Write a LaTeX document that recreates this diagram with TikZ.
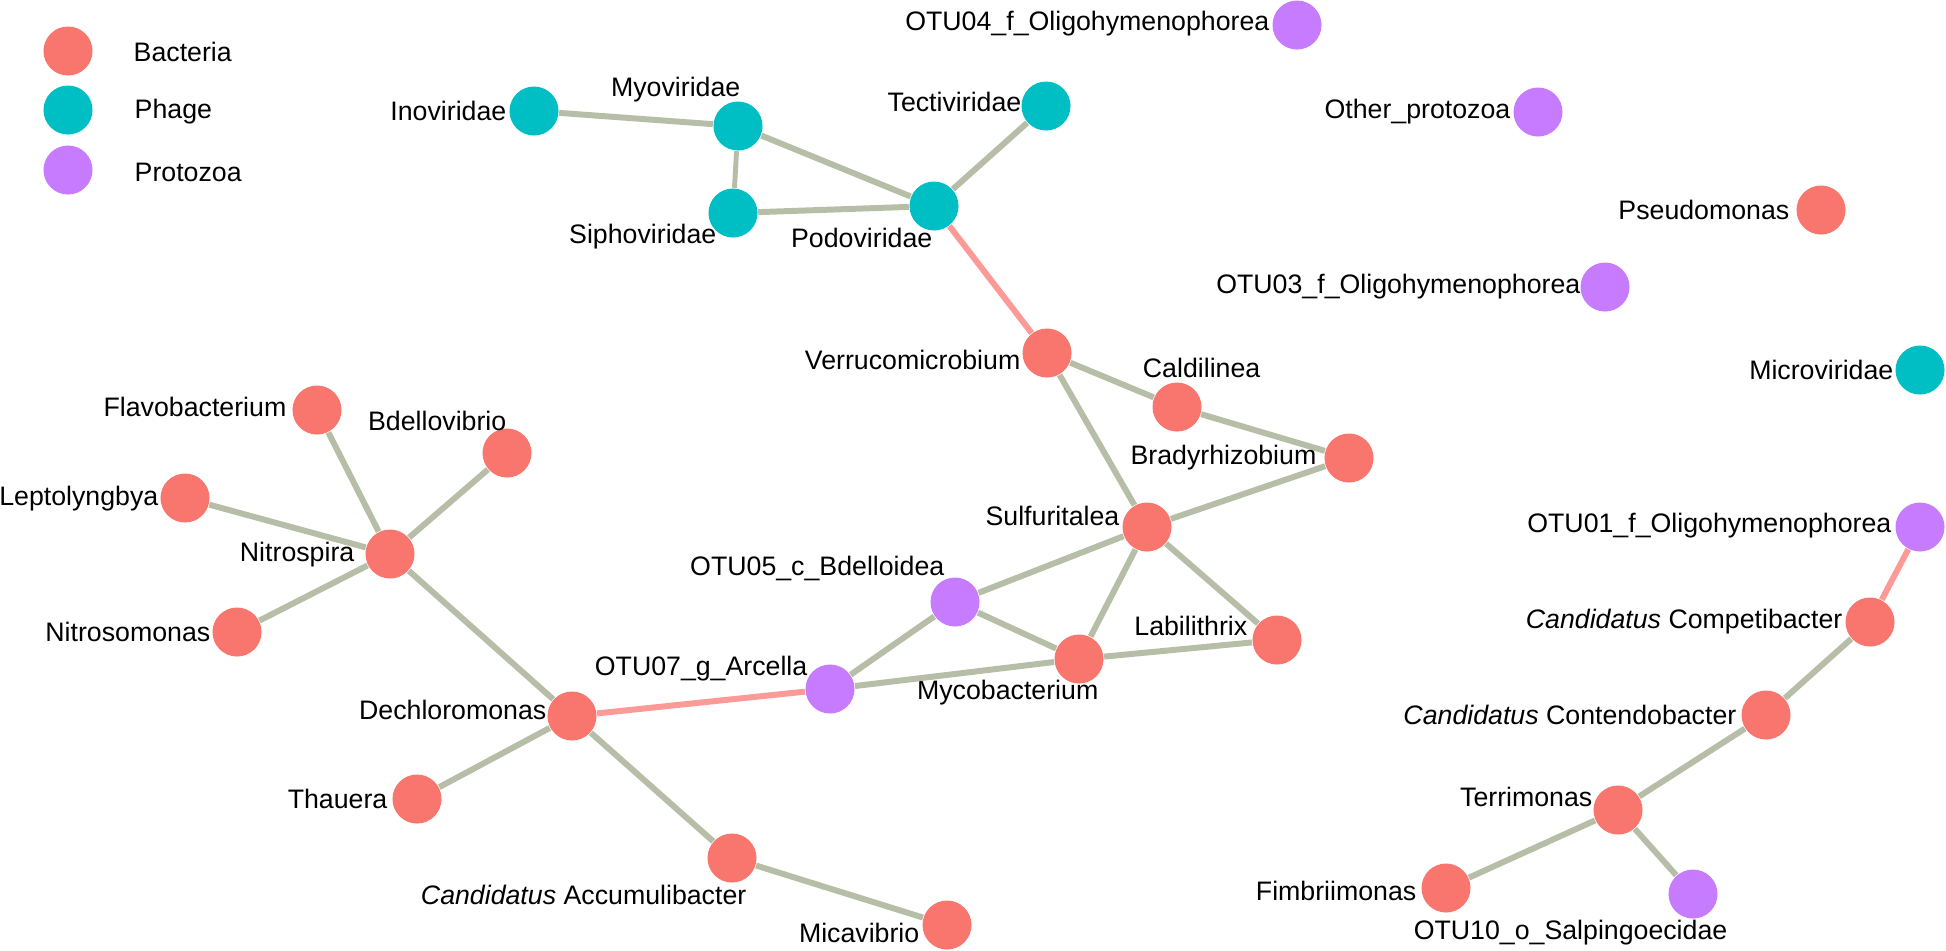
\documentclass[tikz,border=0pt]{standalone}
\usepackage{fontspec}
\setmainfont{Liberation Sans}
\usetikzlibrary{positioning}
\definecolor{bacRed}{HTML}{F8766D}
\definecolor{phgCyan}{HTML}{00BFC4}
\definecolor{proViolet}{HTML}{C77CFF}
\definecolor{edgeSage}{HTML}{B7BEA8}
\definecolor{edgePink}{HTML}{FC9A98}

\begin{document}
\begin{tikzpicture}[x=0.01cm, y=-0.01cm,
          bac/.style={circle, fill=bacRed, minimum size=0.49cm, inner sep=0pt},
          phg/.style={circle, fill=phgCyan, minimum size=0.49cm, inner sep=0pt},
          pro/.style={circle, fill=proViolet, minimum size=0.49cm, inner sep=0pt},
          lab/.style={inner sep=0pt, anchor=east, font=\fontsize{7.6}{9}\selectfont},
          leg/.style={inner sep=0pt, anchor=west, font=\fontsize{7.6}{9}\selectfont},
          edge/.style={draw=edgeSage, line width=1.7pt},
          thin edge/.style={draw=edgeSage, line width=1.4pt},
          pedge/.style={draw=edgePink, line width=1.7pt}]
        \useasboundingbox (0,0) rectangle (1946,950);
        % legend
        \node[bac] (legB) at (68,51) {};
        \node[phg] (legP) at (68,110) {};
        \node[pro] (legZ) at (68,170) {};
        \node[leg] (tlegB) at (133,52) {Bacteria};
        \node[leg] (tlegP) at (134,112) {Phage};
        \node[leg] (tlegZ) at (134,172) {Protozoa};
        % phage cluster
        \node[phg] (inov) at (534,111) {};
        \node[phg] (myo) at (738,126) {};
        \node[phg] (sipho) at (733,213) {};
        \node[phg] (podo) at (934,206) {};
        \node[phg] (tecti) at (1046,106) {};
        \node[lab] (tinov) at (507,111) {Inoviridae};
        \node[lab] (tmyo) at (741,90) {Myoviridae};
        \node[lab] (tsipho) at (717,237) {Siphoviridae};
        \node[lab] (tpodo) at (933,238) {Podoviridae};
        \node[lab] (ttecti) at (1022,102) {Tectiviridae};
        % unconnected nodes
        \node[pro] (otu04) at (1297,25) {};
        \node[pro] (othp) at (1538,112) {};
        \node[bac] (pseudo) at (1821,210) {};
        \node[pro] (otu03) at (1605,287) {};
        \node[phg] (micro) at (1920,370) {};
        \node[lab] (totu04) at (1270,24) {OTU04\_f\_Oligohymenophorea};
        \node[lab] (tothp) at (1511,112) {Other\_protozoa};
        \node[lab] (tpseudo) at (1790,210) {Pseudomonas};
        \node[lab] (totu03) at (1581,287) {OTU03\_f\_Oligohymenophorea};
        \node[lab] (tmicro) at (1894,370) {Microviridae};
        % central cluster
        \node[bac] (verru) at (1047,353) {};
        \node[bac] (caldi) at (1177,407) {};
        \node[bac] (brady) at (1349,458) {};
        \node[bac] (sulfu) at (1147,527) {};
        \node[pro] (otu05) at (955,602) {};
        \node[bac] (labil) at (1277,640) {};
        \node[bac] (myco) at (1079,659) {};
        \node[pro] (otu07) at (830,689) {};
        \node[lab] (tverru) at (1021,360) {Verrucomicrobium};
        \node[lab] (tcaldi) at (1261,368) {Caldilinea};
        \node[lab] (tbrady) at (1317,458) {Bradyrhizobium};
        \node[lab] (tsulfu) at (1120,516) {Sulfuritalea};
        \node[lab] (totu05) at (945,568) {OTU05\_c\_Bdelloidea};
        \node[lab] (tlabil) at (1248,626) {Labilithrix};
        \node[lab] (tmyco) at (1099,693) {Mycobacterium};
        \node[lab] (totu07) at (808,669) {OTU07\_g\_Arcella};
        % left cluster
        \node[bac] (flavo) at (317,410) {};
        \node[bac] (bdello) at (507,453) {};
        \node[bac] (lepto) at (185,498) {};
        \node[bac] (nitrsp) at (390,554) {};
        \node[bac] (nitrsm) at (237,632) {};
        \node[bac] (dechl) at (572,716) {};
        \node[bac] (thau) at (417,799) {};
        \node[bac] (accum) at (732,858) {};
        \node[bac] (mica) at (947,925) {};
        \node[lab] (tflavo) at (287,407) {Flavobacterium};
        \node[lab] (tbdello) at (507,421) {Bdellovibrio};
        \node[lab] (tlepto) at (159,499) {Leptolyngbya};
        \node[lab] (tnitrsp) at (355,555) {Nitrospira};
        \node[lab] (tnitrsm) at (211,632) {Nitrosomonas};
        \node[lab] (tdechl) at (547,710) {Dechloromonas};
        \node[lab] (tthau) at (388,799) {Thauera};
        \node[lab] (taccum) at (747,895) {\textit{Candidatus} Accumulibacter};
        \node[lab] (tmica) at (920,933) {Micavibrio};
        % right cluster
        \node[pro] (otu01) at (1920,527) {};
        \node[bac] (compet) at (1870,622) {};
        \node[bac] (conten) at (1766,715) {};
        \node[bac] (terri) at (1618,810) {};
        \node[bac] (fimb) at (1446,888) {};
        \node[pro] (otu10) at (1693,894) {};
        \node[lab] (totu01) at (1892,526) {OTU01\_f\_Oligohymenophorea};
        \node[lab] (tcompet) at (1843,622) {\textit{Candidatus} Competibacter};
        \node[lab] (tconten) at (1737,715) {\textit{Candidatus} Contendobacter};
        \node[lab] (tterri) at (1593,797) {Terrimonas};
        \node[lab] (tfimb) at (1417,891) {Fimbriimonas};
        \node[lab] (totu10) at (1728,933) {OTU10\_o\_Salpingoecidae};
        % edges
        \draw[edge] (inov) -- (myo);
        \draw[thin edge] (myo) -- (sipho);
        \draw[edge] (myo) -- (podo);
        \draw[edge] (sipho) -- (podo);
        \draw[edge] (podo) -- (tecti);
        \draw[pedge] (podo) -- (verru);
        \draw[edge] (verru) -- (caldi);
        \draw[edge] (verru) -- (sulfu);
        \draw[edge] (caldi) -- (brady);
        \draw[edge] (brady) -- (sulfu);
        \draw[edge] (sulfu) -- (otu05);
        \draw[edge] (sulfu) -- (myco);
        \draw[edge] (sulfu) -- (labil);
        \draw[edge] (otu05) -- (myco);
        \draw[edge] (otu05) -- (otu07);
        \draw[edge] (otu07) -- (myco);
        \draw[edge] (myco) -- (labil);
        \draw[pedge] (otu07) -- (dechl);
        \draw[edge] (dechl) -- (nitrsp);
        \draw[edge] (dechl) -- (thau);
        \draw[edge] (dechl) -- (accum);
        \draw[edge] (accum) -- (mica);
        \draw[edge] (nitrsp) -- (flavo);
        \draw[edge] (nitrsp) -- (bdello);
        \draw[edge] (nitrsp) -- (lepto);
        \draw[edge] (nitrsp) -- (nitrsm);
        \draw[pedge] (otu01) -- (compet);
        \draw[edge] (compet) -- (conten);
        \draw[edge] (conten) -- (terri);
        \draw[edge] (terri) -- (fimb);
        \draw[edge] (terri) -- (otu10);
      \end{tikzpicture}
\end{document}
